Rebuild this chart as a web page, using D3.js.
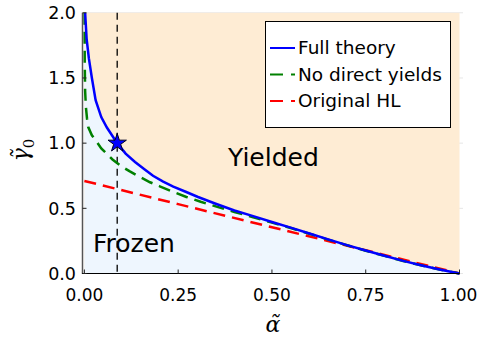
<!DOCTYPE html>
<html>
<head>
<meta charset="utf-8">
<script src="https://cdn.jsdelivr.net/npm/d3@7"></script>
<style>
  body { margin: 0; background: #fff; }
  text { font-family: "DejaVu Sans", sans-serif; }
</style>
</head>
<body>
<div id="chart"></div>
<script>
// full theory curve (alpha, gamma0)
var fullAlpha = [0.002, 0.006, 0.012, 0.02, 0.03, 0.045, 0.06, 0.0875, 0.11, 0.135, 0.16, 0.183, 0.21, 0.237, 0.27, 0.303, 0.35, 0.4, 0.45, 0.5, 0.55, 0.6, 0.65, 0.7, 0.75, 0.8, 0.85, 0.9, 0.95, 1.0];
var fullGamma = [2.0, 1.8, 1.65, 1.5, 1.33, 1.2, 1.12, 1.0, 0.92, 0.856, 0.8, 0.75, 0.705, 0.667, 0.627, 0.587, 0.535, 0.483, 0.44, 0.395, 0.352, 0.307, 0.262, 0.218, 0.176, 0.136, 0.097, 0.062, 0.029, 0.0];

// no direct yields
var noDirAlpha = [0.0005, 0.001, 0.002, 0.004, 0.007, 0.01, 0.02, 0.033, 0.045, 0.059, 0.075, 0.095, 0.12, 0.148, 0.175, 0.201, 0.235, 0.272, 0.31, 0.35, 0.4, 0.45, 0.5, 0.55, 0.6, 0.65, 0.7, 0.75, 0.8, 0.85, 0.9, 0.95, 1.0];
var noDirGamma = [2.0, 1.6, 1.4, 1.28, 1.19, 1.125, 1.06, 1.01, 0.96, 0.92, 0.875, 0.83, 0.785, 0.74, 0.70, 0.669, 0.628, 0.587, 0.55, 0.515, 0.472, 0.432, 0.39, 0.349, 0.305, 0.26, 0.217, 0.175, 0.135, 0.096, 0.061, 0.028, 0.0];

// original HL
var hlAlpha = [0.0, 0.25, 0.5, 0.75, 1.0];
var hlGamma = [0.71, 0.532, 0.355, 0.178, 0.0];

var starAlpha = 0.0875, starGamma = 1.0;

var xTicks = [0, 0.25, 0.5, 0.75, 1.0];
var yTicks = [0, 0.5, 1.0, 1.5, 2.0];
var seriesNames = ["Full theory", "No direct yields", "Original HL"];
var seriesColors = ["#0000ff", "#008000", "#ff0000"];

var W = 477, H = 339;
var svg = d3.select("#chart").append("svg")
  .attr("width", W).attr("height", H);

var x = d3.scaleLinear().domain([-0.005, 1]).range([82.5, 459.5]);
var y = d3.scaleLinear().domain([0, 2]).range([273.5, 12.8]);

function zip(a, b) { return a.map(function(v, i) { return [v, b[i]]; }); }
var full = zip(fullAlpha, fullGamma);
var noDir = zip(noDirAlpha, noDirGamma);
var hl = zip(hlAlpha, hlGamma);

// faint grid (mostly hidden under the fills)
yTicks.forEach(function(t) {
  svg.append("line")
    .attr("x1", 83).attr("x2", 463)
    .attr("y1", y(t)).attr("y2", y(t))
    .attr("stroke", "#e6e6e6").attr("stroke-width", 1);
});

// yielded region
svg.append("rect")
  .attr("x", x(0)).attr("y", y(2))
  .attr("width", x(1) - x(0)).attr("height", y(0) - y(2))
  .attr("fill", "#feecd4");

// frozen region below the full theory curve
var area = [[0, 0], [0, 2]].concat(full).concat([[1, 0]]);
svg.append("path")
  .attr("d", d3.line().x(function(d){ return x(d[0]); }).y(function(d){ return y(d[1]); })(area) + "Z")
  .attr("fill", "#eef6fe");

// vertical dashed line
svg.append("line")
  .attr("x1", x(starAlpha)).attr("x2", x(starAlpha))
  .attr("y1", y(2)).attr("y2", y(0))
  .attr("stroke", "#000").attr("stroke-width", 1.3)
  .attr("stroke-dasharray", "7,5");

var line = d3.line()
  .x(function(d){ return x(d[0]); })
  .y(function(d){ return y(d[1]); });

svg.append("path").datum(hl).attr("d", line)
  .attr("fill", "none").attr("stroke", seriesColors[2])
  .attr("stroke-width", 2.5).attr("stroke-dasharray", "12,7");
svg.append("path").datum(noDir).attr("d", line)
  .attr("fill", "none").attr("stroke", seriesColors[1])
  .attr("stroke-width", 2.5).attr("stroke-dasharray", "12,7");
svg.append("path").datum(full).attr("d", line)
  .attr("fill", "none").attr("stroke", seriesColors[0])
  .attr("stroke-width", 2.5);

// star marker
svg.append("path")
  .attr("d", d3.symbol().type(d3.symbolStar).size(105)())
  .attr("transform", "translate(" + x(starAlpha) + "," + y(starGamma) + ")")
  .attr("fill", "#0000ff").attr("stroke", "#000022").attr("stroke-width", 1);

// region labels
svg.append("text").attr("x", 228).attr("y", 166)
  .style("font-size", "25px").attr("fill", "#000").text("Yielded");
svg.append("text").attr("x", 93).attr("y", 252)
  .style("font-size", "25px").attr("fill", "#000").text("Frozen");

// axes
svg.append("line")
  .attr("x1", 82.5).attr("x2", 82.5).attr("y1", y(2)).attr("y2", y(0) + 0.5)
  .attr("stroke", "#555").attr("stroke-width", 1.5);
svg.append("line")
  .attr("x1", 82).attr("x2", 460).attr("y1", y(0)).attr("y2", y(0))
  .attr("stroke", "#000").attr("stroke-width", 1.2);

yTicks.forEach(function(t) {
  svg.append("line")
    .attr("x1", 82.5).attr("x2", 86.5).attr("y1", y(t)).attr("y2", y(t))
    .attr("stroke", "#222").attr("stroke-width", 1);
  svg.append("text")
    .attr("x", 76).attr("y", y(t)).attr("dy", "0.36em")
    .attr("text-anchor", "end").style("font-size", "17.5px")
    .text(t.toFixed(1));
});
xTicks.forEach(function(t) {
  svg.append("line")
    .attr("x1", x(t)).attr("x2", x(t)).attr("y1", y(0)).attr("y2", y(0) - 4)
    .attr("stroke", "#222").attr("stroke-width", 1);
  svg.append("text")
    .attr("x", t === 1 ? x(t) - 1 : x(t)).attr("y", 300.5)
    .attr("text-anchor", "middle").style("font-size", "17px")
    .text(t.toFixed(2));
});

// axis titles
svg.append("text")
  .attr("x", 273).attr("y", 332)
  .attr("text-anchor", "middle")
  .style("font-family", "'DejaVu Serif', serif").style("font-style", "italic")
  .style("font-size", "22px")
  .text("\u03B1\u0303");

var yl = svg.append("text")
  .attr("transform", "translate(28,150) rotate(-90)")
  .attr("text-anchor", "middle")
  .style("font-family", "'DejaVu Serif', serif")
  .style("font-size", "22px");
yl.append("tspan").style("font-style", "italic").text("\u03B3\u0303");
yl.append("tspan").attr("dy", 6).style("font-size", "15px").text("0");

// legend
var lg = svg.append("g");
lg.append("rect")
  .attr("x", 265.5).attr("y", 21.5).attr("width", 185).attr("height", 106)
  .attr("fill", "#fff").attr("stroke", "#000").attr("stroke-width", 1);
var dashes = [null, "13,8", "13,8"];
seriesNames.forEach(function(name, i) {
  var yy = 48 + i * 26.5;
  lg.append("line")
    .attr("x1", 270).attr("x2", 295).attr("y1", yy).attr("y2", yy)
    .attr("stroke", seriesColors[i]).attr("stroke-width", 2)
    .attr("stroke-dasharray", dashes[i]);
  lg.append("text")
    .attr("x", 298).attr("y", yy).attr("dy", "0.35em")
    .style("font-size", "18.5px")
    .text(name);
});
</script>
</body>
</html>
